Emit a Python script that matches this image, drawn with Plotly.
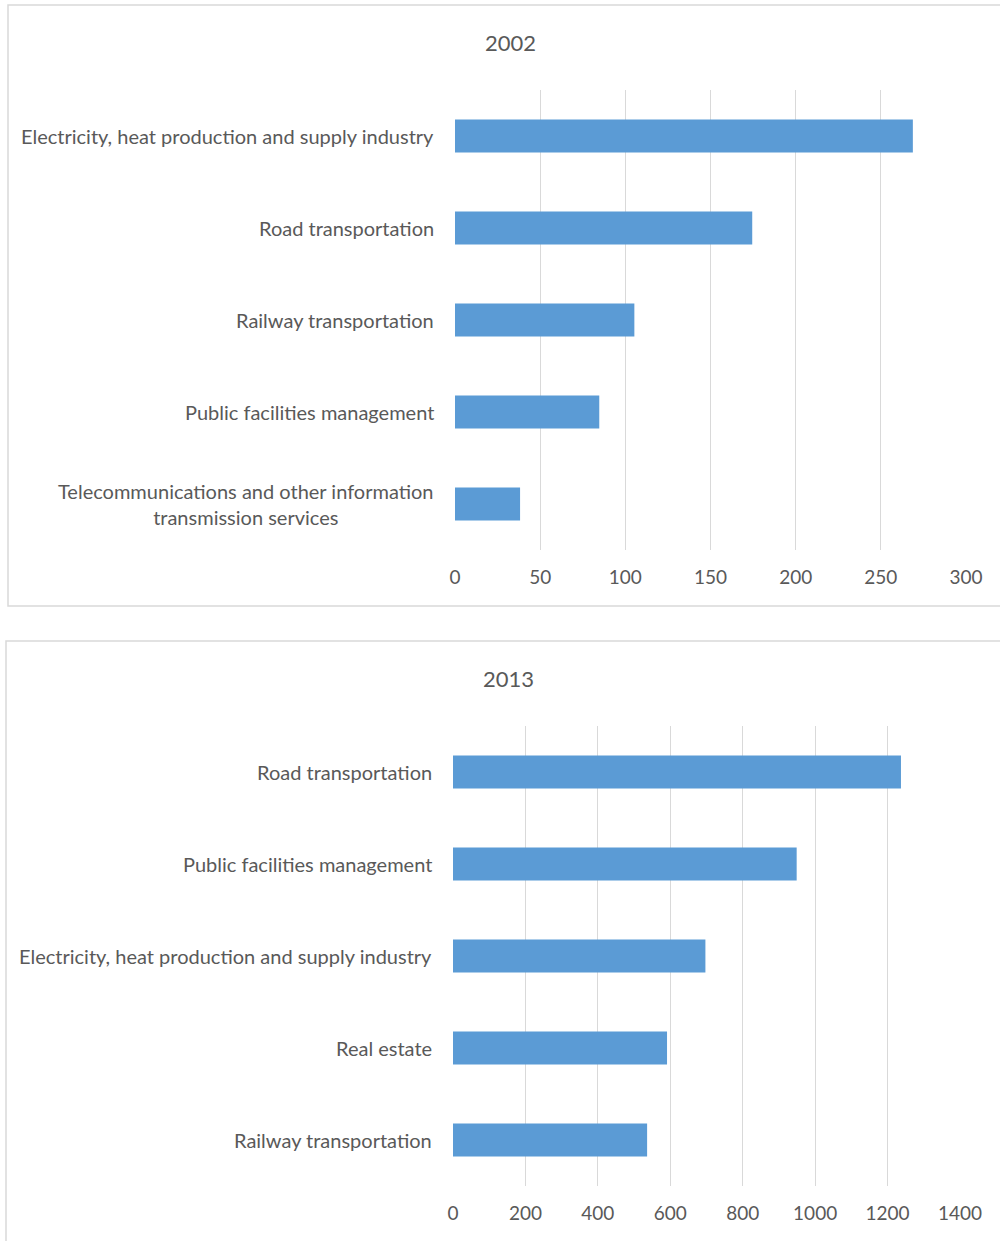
import plotly.graph_objects as go

# ---- data ----
cats_2002 = [
    "Electricity, heat production and supply industry",
    "Road transportation",
    "Railway transportation",
    "Public facilities management",
    "Telecommunications and other information<br>transmission services",
]
vals_2002 = [268.8, 174.5, 105.3, 84.7, 38.2]

cats_2013 = [
    "Road transportation",
    "Public facilities management",
    "Electricity, heat production and supply industry",
    "Real estate",
    "Railway transportation",
]
vals_2013 = [1237, 949, 697, 591, 536]

ticks_2002 = [0, 50, 100, 150, 200, 250, 300]
ticks_2013 = [0, 200, 400, 600, 800, 1000, 1200, 1400]

W, H = 1000, 1241
BAR = "#5B9BD5"
GRID = "#d9d9d9"
TXT = "#595959"
FONT = "Lato"

def px(y):
    return 1 - y / H

fig = go.Figure()
fig.add_trace(go.Bar(y=cats_2002, x=vals_2002, orientation="h", marker_color=BAR,
                     marker_line_width=0, xaxis="x", yaxis="y", showlegend=False))
fig.add_trace(go.Bar(y=cats_2013, x=vals_2013, orientation="h", marker_color=BAR,
                     marker_line_width=0, xaxis="x2", yaxis="y2", showlegend=False))

axis_common = dict(showgrid=True, gridcolor=GRID, gridwidth=1.4, zeroline=False,
                   showline=False, ticks="", tickfont=dict(family=FONT, size=19, color=TXT),
                   ticklabelstandoff=14, fixedrange=True, automargin=False)
yaxis_common = dict(autorange="reversed", showticklabels=False, showgrid=False,
                    zeroline=False, showline=False, fixedrange=True, automargin=False)

fig.update_layout(
    width=W, height=H, autosize=False,
    margin=dict(l=0, r=0, t=0, b=0, pad=0),
    paper_bgcolor="white", plot_bgcolor="white",
    bargap=0.64,
    font=dict(family=FONT, color=TXT),
    xaxis=dict(domain=[455 / W, 966 / W], range=[0, 300], tickvals=ticks_2002,
               anchor="y", **axis_common),
    yaxis=dict(domain=[px(550), px(90)], anchor="x", **yaxis_common),
    xaxis2=dict(domain=[453 / W, 960 / W], range=[0, 1400], tickvals=ticks_2013,
                anchor="y2", **axis_common),
    yaxis2=dict(domain=[px(1186), px(726)], anchor="x2", **yaxis_common),
)

annotations = []
for c in cats_2002:
    annotations.append(dict(x=0, y=c, xref="x", yref="y", text=c, showarrow=False,
                            xanchor="right", xshift=-19, align="center",
                            font=dict(family=FONT, size=20, color=TXT)))
for c in cats_2013:
    annotations.append(dict(x=0, y=c, xref="x2", yref="y2", text=c, showarrow=False,
                            xanchor="right", xshift=-19, align="center",
                            font=dict(family=FONT, size=20, color=TXT)))
annotations.append(dict(x=510 / W, y=px(42), xref="paper", yref="paper", text="2002",
                        xanchor="center", yanchor="middle",
                        showarrow=False, font=dict(family=FONT, size=22, color=TXT)))
annotations.append(dict(x=508 / W, y=px(678), xref="paper", yref="paper", text="2013",
                        xanchor="center", yanchor="middle",
                        showarrow=False, font=dict(family=FONT, size=22, color=TXT)))
fig.update_layout(annotations=annotations)

fig.update_layout(shapes=[
    dict(type="rect", xref="paper", yref="paper", x0=8 / W, x1=1.01, y0=px(606), y1=px(5),
         line=dict(color=GRID, width=1.5), fillcolor="rgba(0,0,0,0)", layer="below"),
    dict(type="rect", xref="paper", yref="paper", x0=6 / W, x1=1.01, y0=-0.01, y1=px(641),
         line=dict(color=GRID, width=1.5), fillcolor="rgba(0,0,0,0)", layer="below"),
])

fig.write_html(
    "out.html",
    config={"displayModeBar": False, "responsive": False},
    post_script="document.body.style.margin='0';document.body.style.overflow='hidden';",
)
